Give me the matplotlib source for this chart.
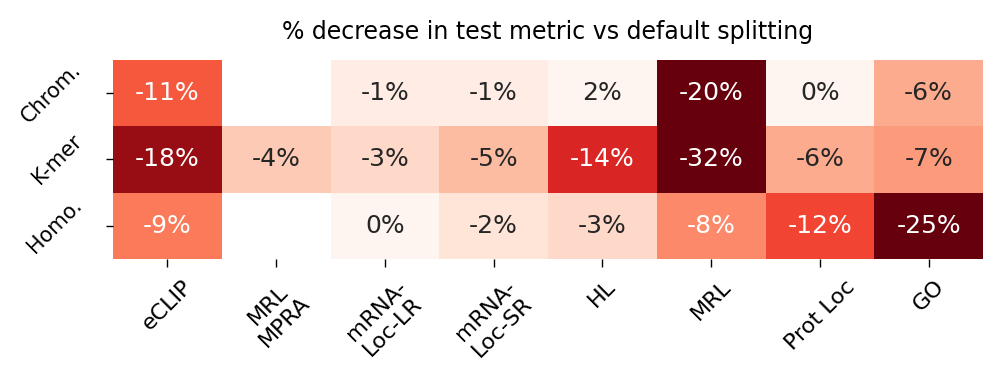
import numpy as np
import matplotlib
matplotlib.use("Agg")
import matplotlib.pyplot as plt
import seaborn as sns

# rows = splitting strategy, cols = task
rows = ["Chrom.", "K-mer", "Homo."]
tasks = ["eCLIP", "MRL\nMPRA", "mRNA-\nLoc-LR", "mRNA-\nLoc-SR", "HL", "MRL", "Prot Loc", "GO"]

chrom = [-11, np.nan, -1, -1, 2, -20, 0, -6]
kmer = [-18, -4, -3, -5, -14, -32, -6, -7]
homo = [-9, np.nan, 0, -2, -3, -8, -12, -25]

vals = np.array([chrom, kmer, homo], dtype=float)
labels = np.array([["" if np.isnan(v) else "%d%%" % v for v in r] for r in vals])

fig = plt.figure(figsize=(10, 3.87), dpi=100)
ax = fig.add_axes([0.113, 0.331, 0.870, 0.514])

sns.heatmap(vals, ax=ax, cmap="Reds_r", vmin=-20, vmax=0, cbar=False,
            annot=labels, fmt="", annot_kws={"fontsize": 18})

ax.tick_params(axis="x", length=6, width=1, pad=6.5, labelsize=16)
ax.tick_params(axis="y", length=5, width=1, pad=15, labelsize=15)
ax.set_xticklabels(tasks, rotation=45, ha="center", fontsize=16)
ax.set_yticklabels(rows, rotation=45, ha="right", va="center", fontsize=15)
ax.set_title("% decrease in test metric vs default splitting", fontsize=17, pad=15)

fig.savefig("out.png", dpi=100)
